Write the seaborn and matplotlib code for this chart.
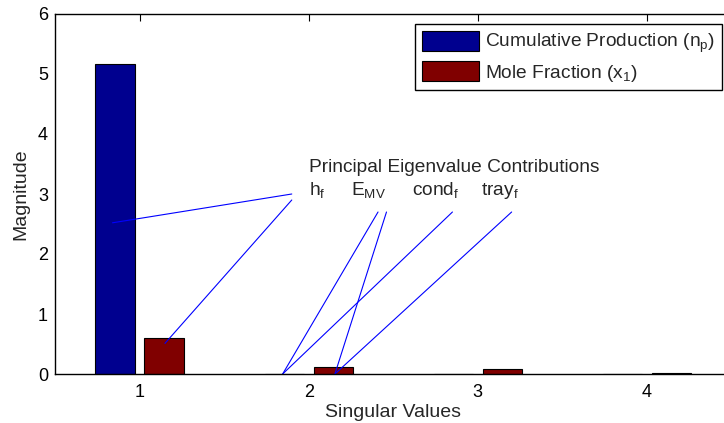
import pandas as pd
import numpy as np
import matplotlib
matplotlib.use('Agg')
import matplotlib.pyplot as plt
import seaborn as sns

# data
singular_values = ['1', '2', '3', '4']
cumulative_production = [5.17, 0.0, 0.0, 0.0]
mole_fraction = [0.605, 0.11, 0.078, 0.015]
series_names = [r'Cumulative Production ($\mathregular{n_p}$)',
                r'Mole Fraction ($\mathregular{x_1}$)']
bar_colors = ['#00008F', '#800000']

# annotation labels (data coords) and leader lines
label_names = [r'$\mathregular{h_f}$', r'$\mathregular{E_{MV}}$',
               r'$\mathregular{cond_f}$', r'$\mathregular{tray_f}$']
label_x = [2.0, 2.25, 2.61, 3.02]
# (x0, y0, x1, y1) for each leader line
leader_lines = [
    (1.90, 3.00, 0.84, 2.52),
    (1.90, 2.90, 1.15, 0.51),
    (2.41, 2.70, 1.846, 0.0),
    (2.46, 2.70, 2.155, 0.0),
    (2.85, 2.70, 1.846, 0.0),
    (3.20, 2.70, 2.155, 0.0),
]

df = pd.DataFrame({
    'sv': singular_values * 2,
    'series': [series_names[0]] * 4 + [series_names[1]] * 4,
    'value': cumulative_production + mole_fraction,
})

sns.set_style('white')
plt.rcParams['font.family'] = ['Liberation Sans', 'DejaVu Sans']
plt.rcParams['mathtext.default'] = 'regular'

fig = plt.figure(figsize=(7.24, 4.23), dpi=100)
ax = fig.add_axes([55 / 724, 49 / 423, 676.5 / 724, 360 / 423])

sns.barplot(data=df, x='sv', y='value', hue='series', palette=bar_colors,
            width=0.58, gap=0.2, edgecolor='black', linewidth=0.8,
            saturation=1, ax=ax, legend=True)

ax.set_xlim(-0.5, 3.5)
ax.set_ylim(0, 6)
ax.set_yticks(range(0, 7))
ax.set_xlabel('Singular Values', fontsize=14, labelpad=2)
ax.set_ylabel('Magnitude', fontsize=14, labelpad=6)
ax.tick_params(axis='both', direction='in', length=5, width=0.8,
               top=True, right=True, labelsize=13, colors='black')
ax.tick_params(axis='x', pad=7)
ax.tick_params(axis='y', pad=5)
for s in ax.spines.values():
    s.set_visible(True)
    s.set_color('black')
    s.set_linewidth(1.0)

# annotation text and leader lines (x positions shifted: category 1 is at 0)
ax.text(1.0, 3.37, 'Principal Eigenvalue Contributions', fontsize=13.8,
        ha='left', va='baseline')
for name, lx in zip(label_names, label_x):
    ax.text(lx - 1, 2.98, name, fontsize=13.8, ha='left', va='baseline')
for x0, y0, x1, y1 in leader_lines:
    ax.plot([x0 - 1, x1 - 1], [y0, y1], color='#0000FF', lw=0.8,
            clip_on=False)

leg = ax.legend(loc='upper right', bbox_to_anchor=(722 / 724, 1 - 24 / 423),
                bbox_transform=fig.transFigure, fontsize=13.8, frameon=True,
                fancybox=False, framealpha=1, edgecolor='black',
                handlelength=3.0, handleheight=1.25, borderpad=0.35,
                labelspacing=0.3, handletextpad=0.3, borderaxespad=0)
leg.get_frame().set_linewidth(1.0)

fig.savefig('out.png', dpi=100)
